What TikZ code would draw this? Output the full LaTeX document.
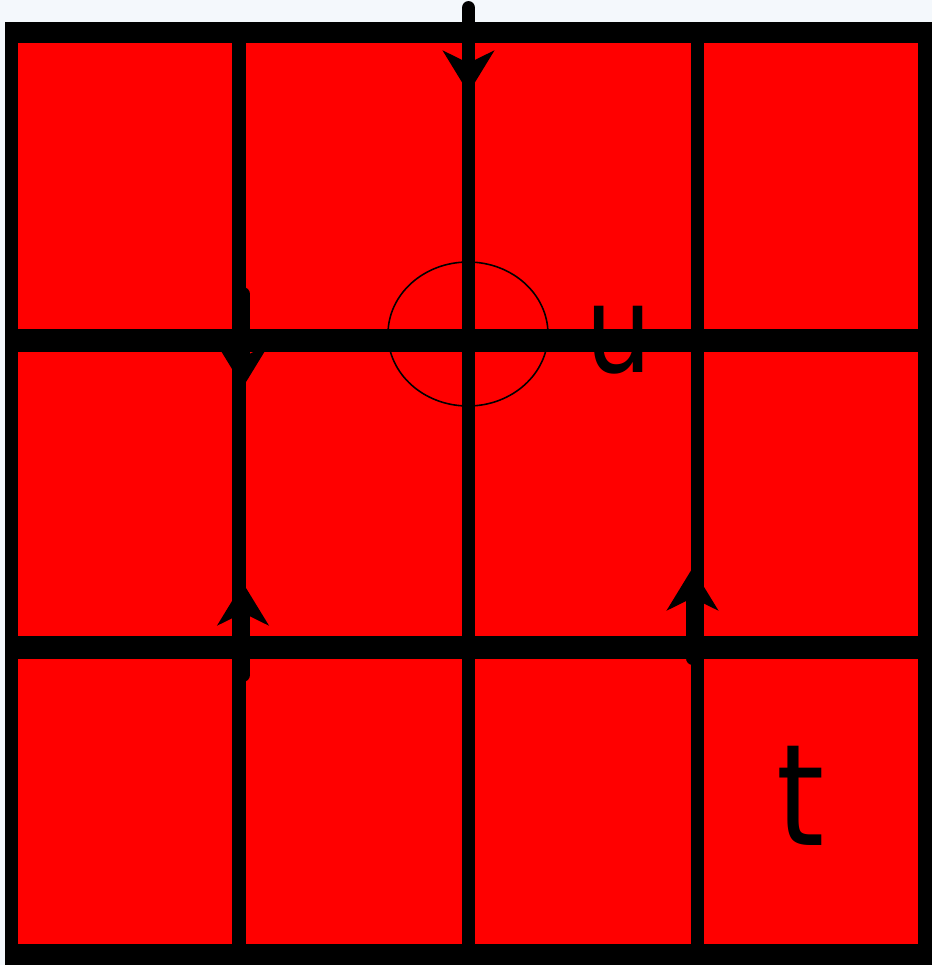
\documentclass[tikz,border=0pt]{standalone}
\usepackage{fontspec}
\usetikzlibrary{arrows.meta}
\newfontfamily\labelfont{DejaVu Sans}
\definecolor{cellred}{HTML}{FF0000}
\definecolor{paper}{HTML}{F4F8FC}

\begin{document}
\begin{tikzpicture}[x=0.02cm,y=-0.02cm,
  vline/.style={line width=7.9pt},
  hline/.style={line width=12.6pt},
  flow/.style={line width=7.9pt,line cap=round,-{Stealth[length=24pt,width=29pt,inset=7pt]}},
  lbl/.style={inner sep=0pt,yscale=1.15,font=\labelfont}
]
  % page and frame
  \fill[paper] (0,0) rectangle (932,965);
  \fill[black] (5,22) rectangle (932,965);
  \fill[cellred] (18,43) rectangle (918,944);
  % grid lines
  \foreach \gx in {239,468.5,697.5}
    \draw[vline] (\gx,43) -- (\gx,944);
  \foreach \gy in {340.5,647.5}
    \draw[hline] (18,\gy) -- (918,\gy);
  \draw[line width=0.9pt] (468,334) ellipse [x radius=80, y radius=72];
  % arrow ends
  \coordinate (topin) at (468.5,8);
  \coordinate (topout) at (468.5,93);
  \coordinate (leftin) at (243,294);
  \coordinate (leftout) at (243,387);
  \coordinate (lowin) at (243,675);
  \coordinate (lowout) at (243,583);
  \coordinate (rightin) at (692.5,658);
  \coordinate (rightout) at (692.5,568);
  \draw[flow] (topin) -- (topout);
  \draw[flow] (leftin) -- (leftout);
  \draw[flow] (lowin) -- (lowout);
  \draw[flow] (rightin) -- (rightout);
  % labels
  \node[lbl] (u) at (619,339) {\fontsize{60}{60}\selectfont u};
  \node[lbl] (t) at (801,796) {\fontsize{70}{70}\selectfont t};
\end{tikzpicture}
\end{document}
